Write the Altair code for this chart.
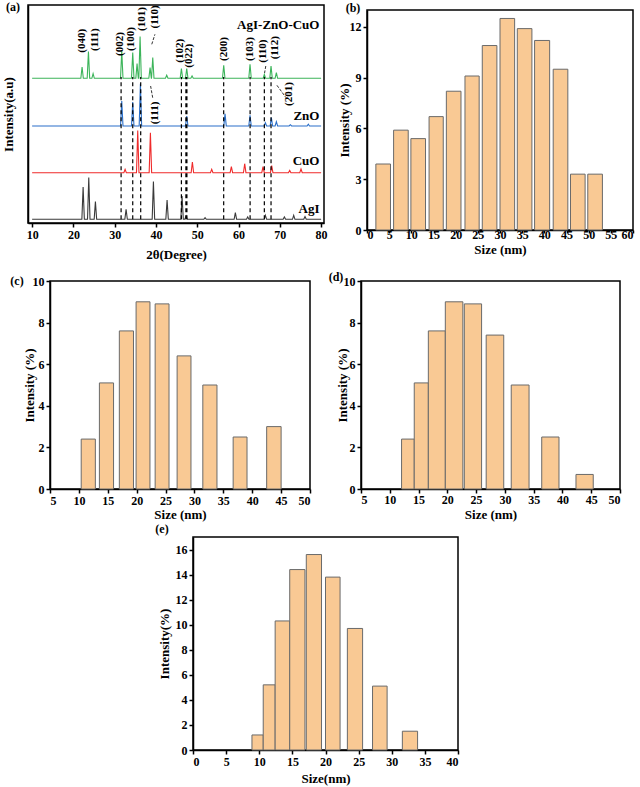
import altair as alt
import pandas as pd

FONT = "Liberation Serif"
BAR_FILL = "#F9C994"
BAR_STROKE = "#6a6a6a"

# ---------------- panel (a): XRD patterns ----------------
xrd_series = ["AgI-ZnO-CuO", "ZnO", "CuO", "AgI"]
xrd_colors = ["#3cb45a", "#2a6fc9", "#ef2b2b", "#3a3a3a"]
xrd_baseline = [144.7, 97.0, 50.3, 3.7]

green_pos = [22.1, 23.64, 24.77, 31.71, 34.37, 35.42, 36.15, 38.57, 39.22, 42.6,
             46.16, 47.45, 48.74, 56.41, 62.78, 66.25, 67.87, 69.16]
green_h = [11.3, 26.7, 4.7, 27.3, 25.7, 14.7, 41.7, 10.7, 20.7, 3.0,
           9.7, 9.7, 2.3, 13.0, 14.0, 4.0, 12.3, 5.7]
blue_pos = [31.71, 34.37, 36.23, 47.45, 56.73, 62.78, 66.5, 67.95, 69.16, 72.55, 76.9]
blue_h = [25.0, 24.0, 42.3, 10.0, 12.3, 10.7, 3.3, 8.3, 4.3, 1.3, 1.7]
red_pos = [32.52, 35.58, 38.65, 48.82, 53.5, 58.26, 61.49, 65.93, 68.03, 72.39, 75.13]
red_h = [3.3, 42.3, 40.0, 10.7, 3.3, 6.0, 9.0, 6.0, 7.0, 2.3, 3.7]
black_pos = [22.35, 23.72, 25.33, 32.76, 39.38, 42.69, 46.32, 47.29, 51.89, 59.23,
             62.22, 66.5, 71.1, 73.36, 76.1]
black_h = [32.3, 41.7, 17.7, 10.0, 37.7, 19.3, 23.3, 3.3, 1.7, 6.7,
           2.3, 4.0, 2.3, 4.0, 2.7]

dash_pos = [31.55, 34.37, 36.3, 46.16, 47.37, 56.4, 62.8, 66.25, 67.87]
dash_w = [1.2, 1.2, 1.2, 1.2, 2.2, 1.2, 1.2, 1.2, 1.2]
dash_bottom = 3.7
dash_top = 146.0

hkl_text = ["(040)", "(111)", "(002)", "(100)", "(101)", "(110)", "(111)", "(102)",
            "(022)", "(200)", "(103)", "(110)", "(112)", "(201)"]
hkl_x = [22.1, 25.33, 31.4, 33.97, 36.55, 39.78, 39.78, 45.8, 48.0, 56.5, 62.85, 65.95, 68.8, 72.3]
hkl_y = [170.3, 172.0, 167.0, 172.0, 192.0, 194.5, 98.7, 160.3, 155.3, 162.0, 162.0, 160.3, 163.7, 117.0]

name_y = [198.0, 107.0, 62.0, 14.0]
name_x = 79.6

arrow_x1 = [38.98, 39.2, 66.6, 69.3]
arrow_y1 = [178.7, 125.3, 157.0, 137.7]
arrow_x2 = [39.75, 38.7, 66.3, 71.5]
arrow_y2 = [188.7, 137.0, 150.0, 125.3]

# ---------------- panels (b)-(e): size distributions ----------------
b_start = [2.0, 6.0, 9.9, 14.0, 17.9, 22.1, 26.0, 30.0, 33.9, 37.8, 42.0, 45.9, 49.8]
b_end = [5.3, 9.3, 13.2, 17.2, 21.2, 25.3, 29.3, 33.3, 37.2, 41.2, 45.3, 49.2, 53.1]
b_val = [3.9, 5.9, 5.4, 6.7, 8.2, 9.1, 10.9, 12.5, 11.9, 11.2, 9.5, 3.3, 3.3]

c_start = [10.4, 13.55, 17.0, 19.9, 23.2, 27.0, 31.45, 36.7, 42.5]
c_end = [12.85, 16.0, 19.45, 22.3, 25.6, 29.4, 33.9, 39.1, 45.0]
c_val = [2.4, 5.1, 7.6, 9.0, 8.9, 6.4, 5.0, 2.5, 3.0]

d_start = [12.05, 14.25, 16.7, 19.65, 22.95, 26.75, 31.1, 36.4, 42.35]
d_end = [14.25, 16.7, 19.65, 22.7, 25.95, 29.8, 34.2, 39.4, 45.35]
d_val = [2.4, 5.1, 7.6, 9.0, 8.9, 7.4, 5.0, 2.5, 0.7]

e_start = [8.9, 10.6, 12.4, 14.6, 17.1, 20.0, 23.3, 27.1, 31.6]
e_end = [10.6, 12.4, 14.6, 16.9, 19.4, 22.2, 25.6, 29.3, 33.9]
e_val = [1.2, 5.2, 10.3, 14.4, 15.6, 13.8, 9.7, 5.1, 1.5]

panel_labels = ["(a)", "(b)", "(c)", "(d)", "(e)"]


# ---------------- build (a) ----------------
rows = []
for name, base, pos, hts in zip(xrd_series, xrd_baseline,
                                [green_pos, blue_pos, red_pos, black_pos],
                                [green_h, blue_h, red_h, black_h]):
    pts = [(10.0, base), (80.0, base)]
    for p, hh in zip(pos, hts):
        pts += [(p - 0.3, base), (p, base + hh), (p + 0.3, base)]
    pts.sort()
    for i, (x, y) in enumerate(pts):
        rows.append({"series": name, "theta": x, "inten": y, "ord": i})
xrd_df = pd.DataFrame(rows)

XA = alt.Scale(domain=[9.0, 80.7], nice=False, zero=False)
YA = alt.Scale(domain=[0, 218], nice=False, zero=False)


def xa(field="theta"):
    return alt.X(f"{field}:Q", scale=XA,
                 axis=alt.Axis(values=list(range(10, 81, 10)), title="2θ(Degree)",
                               labelPadding=2, titleY=31, titleBaseline="middle"))


def ya(field="inten"):
    return alt.Y(f"{field}:Q", scale=YA,
                 axis=alt.Axis(labels=False, ticks=False, title="Intensity(a.u)",
                               titleX=-13))


lines = alt.Chart(xrd_df).mark_line(strokeWidth=1.1).encode(
    x=xa(), y=ya(),
    color=alt.Color("series:N", scale=alt.Scale(domain=xrd_series, range=xrd_colors), legend=None),
    order="ord:Q",
)

dash_df = pd.DataFrame({"theta": dash_pos, "inten": [dash_bottom] * len(dash_pos),
                        "inten2": [dash_top] * len(dash_pos), "w": dash_w})
dashes = alt.Chart(dash_df).mark_rule(color="black", strokeDash=[4, 3]).encode(
    x=xa(), y=ya(), y2="inten2:Q", strokeWidth=alt.StrokeWidth("w:Q", scale=None))

hkl_df = pd.DataFrame({"theta": hkl_x, "inten": hkl_y, "t": hkl_text})
hkl = alt.Chart(hkl_df).mark_text(angle=270, align="left", baseline="middle", font=FONT,
                                  fontWeight="bold", fontSize=11, color="black").encode(
    x=xa(), y=ya(), text="t:N")

names_df = pd.DataFrame({"theta": [name_x] * 4, "inten": name_y, "t": xrd_series})
names = alt.Chart(names_df).mark_text(align="right", baseline="middle", font=FONT,
                                      fontWeight="bold", fontSize=13, color="black").encode(
    x=xa(), y=ya(), text="t:N")

arrow_df = pd.DataFrame({"theta": arrow_x1, "inten": arrow_y1, "theta2": arrow_x2, "inten2": arrow_y2})
arrows = alt.Chart(arrow_df).mark_rule(color="#333", strokeWidth=1, strokeDash=[3, 1.5]).encode(
    x=xa(), y=ya(), x2="theta2:Q", y2="inten2:Q")

lab_a = alt.Chart(pd.DataFrame({"t": [panel_labels[0]]})).mark_text(
    font=FONT, fontWeight="bold", fontSize=12, color="black", baseline="top").encode(
    x=alt.value(-15), y=alt.value(-3), text="t:N")

panel_a = alt.layer(lines, dashes, hkl, names, arrows, lab_a).properties(width=296, height=218)


# ---------------- bar panels ----------------
def bar_panel(starts, ends, vals, xdom, xticks, ydom, yticks, xtitle, ytitle, w, h,
              label, lab_x, lab_y, ytitle_x, lab_pad, xtitle_y, tick_size=4):
    df = pd.DataFrame({"s": starts, "e": ends, "v": vals, "z": [0] * len(vals)})
    bars = alt.Chart(df).mark_rect(fill=BAR_FILL, stroke=BAR_STROKE, strokeWidth=1).encode(
        x=alt.X("s:Q", scale=alt.Scale(domain=xdom, nice=False, zero=False),
                axis=alt.Axis(values=xticks, title=xtitle, labelPadding=lab_pad,
                              titleY=xtitle_y, titleBaseline="middle", tickSize=tick_size)),
        x2="e:Q",
        y=alt.Y("v:Q", scale=alt.Scale(domain=ydom, nice=False),
                axis=alt.Axis(values=yticks, title=ytitle, titleX=ytitle_x)),
        y2="z:Q",
    )
    lab = alt.Chart(pd.DataFrame({"t": [label]})).mark_text(
        font=FONT, fontWeight="bold", fontSize=12, color="black", baseline="top").encode(
        x=alt.value(lab_x), y=alt.value(lab_y), text="t:N")
    return alt.layer(bars, lab).properties(width=w, height=h)


panel_b = bar_panel(b_start, b_end, b_val, [0, 60], list(range(0, 61, 5)), [0, 13],
                    [0, 3, 6, 9, 12], "Size (nm)", "Intensity (%)", 266, 220,
                    panel_labels[1], -14, -7, -16, -4, 19.5, tick_size=3)
panel_c = bar_panel(c_start, c_end, c_val, [5, 50], list(range(5, 51, 5)), [0, 10],
                    list(range(0, 11, 2)), "Size (nm)", "Intensity (%)", 260, 208,
                    panel_labels[2], -33, -5, -14, 2, 25)
panel_d = bar_panel(d_start, d_end, d_val, [5, 50], list(range(5, 51, 5)), [0, 10],
                    list(range(0, 11, 2)), "Size (nm)", "Intensity (%)", 259, 208,
                    panel_labels[3], -25, -9, -12, 1, 25)
panel_e = bar_panel(e_start, e_end, e_val, [0, 40], list(range(0, 41, 5)), [0, 17],
                    list(range(0, 17, 2)), "Size(nm)", "Intensity(%)", 265, 213,
                    panel_labels[4], -31, -13, -22, 2, 28)


def spacer(w, h):
    # invisible cell used only to offset the panels; its rule marks the page origin
    return alt.Chart(pd.DataFrame({"t": [0]})).mark_rule(strokeOpacity=0).encode(
        x=alt.value(0), y=alt.value(0), y2=alt.value(0)
    ).properties(width=w, height=h, view=alt.ViewBackground(stroke="transparent"))


FL = "flush"


def place(x, y, content):
    # nested flush groups have no size of their own, so every row starts at the
    # page origin and is pushed to (x, y) by invisible spacer cells
    return alt.vconcat(spacer(1, y),
                       alt.hconcat(spacer(x, 1), content, spacing=0, bounds=FL),
                       spacing=0, bounds=FL)


row1 = place(27, 4, alt.hconcat(panel_a,
                                alt.vconcat(spacer(1, 5), panel_b, spacing=0, bounds=FL),
                                spacing=43, bounds=FL))
row2 = place(49, 280, alt.hconcat(panel_c, panel_d, spacing=51, bounds=FL))
row3 = place(192, 536, panel_e)

chart = alt.vconcat(row1, row2, row3, spacing=0, bounds=FL).properties(
    padding=0, background="white"
).configure_view(
    stroke="black", strokeWidth=1.5
).configure_axis(
    grid=False, domainColor="black", domainWidth=1.5, tickColor="black", tickWidth=1.5,
    tickSize=4, labelFont=FONT, labelFontSize=12, labelFontWeight="bold", labelColor="black",
    titleFont=FONT, titleFontSize=13, titleFontWeight="bold", titleColor="black",
    labelPadding=2, titlePadding=2,
)

chart.save("out.html", embed_options={"renderer": "svg", "actions": False})
